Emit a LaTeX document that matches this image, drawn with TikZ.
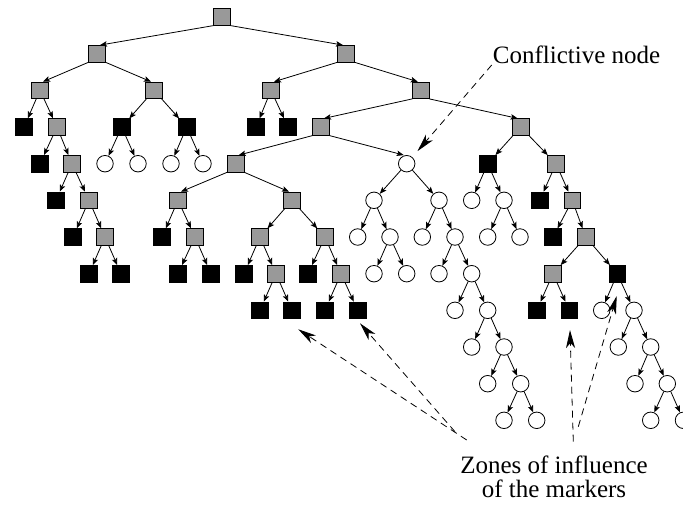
\documentclass[tikz,border=0pt]{standalone}
\usepackage{fontspec}
\setmainfont{Liberation Serif}
\usetikzlibrary{arrows.meta}
\definecolor{nodegray}{gray}{0.6}
\tikzset{
  gsq/.style={rectangle, draw=black, fill=nodegray, minimum size=16.5pt, inner sep=0pt, line width=0.7pt},
  ksq/.style={rectangle, draw=black, fill=black, minimum size=16.5pt, inner sep=0pt, line width=0.7pt},
  cir/.style={circle, draw=black, fill=white, minimum size=16.5pt, inner sep=0pt, line width=0.8pt},
  edge/.style={-{Stealth[length=7pt,width=5.5pt,inset=1.5pt]}, line width=0.8pt},
  callout/.style={dash pattern=on 7pt off 5pt, line width=0.8pt, -{Stealth[length=18pt,width=9pt,inset=5pt]}},
  lbl/.style={font=\fontsize{25}{23.4}\selectfont, inner sep=0pt}
}
\begin{document}
\begin{tikzpicture}[x=1pt,y=-1pt]
\useasboundingbox (0,0) rectangle (683,504);

% row 0
\node[gsq] (root) at (222,17) {};
% row 1
\node[gsq] (a) at (97,53.7) {};
\node[gsq] (b) at (346,53.7) {};
% row 2
\node[gsq] (a1) at (40,90.3) {};
\node[gsq] (a2) at (154,90.3) {};
\node[gsq] (b1) at (271,90.3) {};
\node[gsq] (b2) at (420.8,90.3) {};
% row 3
\node[ksq] (a1l) at (24,127) {};
\node[gsq] (a1r) at (57,127) {};
\node[ksq] (a2l) at (121.7,127) {};
\node[ksq] (a2r) at (186.7,127) {};
\node[ksq] (b1l) at (256,127) {};
\node[ksq] (b1r) at (288,127) {};
\node[gsq] (c) at (321,127) {};
\node[gsq] (g) at (520.7,127) {};
% row 4
\node[ksq] (a1rl) at (40,163.7) {};
\node[gsq] (a1rr) at (72,163.7) {};
\node[cir] (a2ll) at (105,163.7) {};
\node[cir] (a2lr) at (138,163.7) {};
\node[cir] (a2rl) at (171,163.7) {};
\node[cir] (a2rr) at (203,163.7) {};
\node[gsq] (d) at (235.7,163.7) {};
\node[cir] (conf) at (406.7,163.7) {};
\node[ksq] (gl) at (487.7,163.7) {};
\node[gsq] (gr) at (556,163.7) {};
% row 5
\node[ksq] (a1rrl) at (56,200.3) {};
\node[gsq] (a1rrr) at (89,200.3) {};
\node[gsq] (e) at (178,200.3) {};
\node[gsq] (f) at (292,200.3) {};
\node[cir] (cl) at (374,200.3) {};
\node[cir] (cr) at (439,200.3) {};
\node[cir] (gll) at (471.7,200.3) {};
\node[cir] (glr) at (504,200.3) {};
\node[ksq] (grl) at (539.7,200.3) {};
\node[gsq] (grr) at (572.3,200.3) {};
% row 6
\node[ksq] (a6l) at (73,237) {};
\node[gsq] (a6r) at (105,237) {};
\node[ksq] (el) at (162,237) {};
\node[gsq] (er) at (195,237) {};
\node[gsq] (fl) at (260,237) {};
\node[gsq] (fr) at (325,237) {};
\node[cir] (cll) at (357.7,237) {};
\node[cir] (clr) at (390,237) {};
\node[cir] (crl) at (422.3,237) {};
\node[cir] (crr) at (455,237) {};
\node[cir] (glrl) at (487.7,237) {};
\node[cir] (glrr) at (520,237) {};
\node[ksq] (grrl) at (553,237) {};
\node[gsq] (grrr) at (585.7,237) {};
% row 7
\node[ksq] (a7l) at (89,273.7) {};
\node[ksq] (a7r) at (121,273.7) {};
\node[ksq] (erl) at (178,273.7) {};
\node[ksq] (err) at (211,273.7) {};
\node[ksq] (fll) at (244,273.7) {};
\node[gsq] (flr) at (276,273.7) {};
\node[ksq] (frl) at (308,273.7) {};
\node[gsq] (frr) at (341,273.7) {};
\node[cir] (clrl) at (374,273.7) {};
\node[cir] (clrr) at (406.7,273.7) {};
\node[cir] (crrl) at (439,273.7) {};
\node[cir] (crrr) at (471.7,273.7) {};
\node[gsq] (m1) at (553,273.7) {};
\node[ksq] (m2) at (617.3,273.7) {};
% row 8
\node[ksq] (flrl) at (260,310.3) {};
\node[ksq] (flrr) at (292,310.3) {};
\node[ksq] (frrl) at (325,310.3) {};
\node[ksq] (frrr) at (357.7,310.3) {};
\node[cir] (s1) at (455,310.3) {};
\node[cir] (s2) at (487.7,310.3) {};
\node[ksq] (m1l) at (536.7,310.3) {};
\node[ksq] (m1r) at (569.3,310.3) {};
\node[cir] (m2l) at (601.7,310.3) {};
\node[cir] (m2r) at (634,310.3) {};
% row 9
\node[cir] (s2l) at (471.7,347) {};
\node[cir] (s2r) at (504,347) {};
\node[cir] (t1) at (618.3,347) {};
\node[cir] (t2) at (650.7,347) {};
% row 10
\node[cir] (s2rl) at (487.7,383.7) {};
\node[cir] (s2rr) at (520.7,383.7) {};
\node[cir] (t2l) at (635,383.7) {};
\node[cir] (t2r) at (667.3,383.7) {};
% row 11
\node[cir] (s2rrl) at (504,420.3) {};
\node[cir] (s2rrr) at (536.7,420.3) {};
\node[cir] (t2rl) at (650.7,420.3) {};
\node[cir] (t2rr) at (683.5,420.3) {};

% wide branches leave from the parent's lower corners
\foreach \p/\q in {root/a, a/a1, b/b1, b2/c, c/d, d/e}
  \draw[edge] (\p.south west) -- ([xshift=3pt]\q.north);
\foreach \p/\q in {root/b, a/a2, b/b2, b2/g, c/conf, d/f}
  \draw[edge] (\p.south east) -- ([xshift=-3pt]\q.north);

% narrow branches
\foreach \p/\q in {a1/a1l, a1/a1r, a2/a2l, a2/a2r, b1/b1l, b1/b1r, g/gl, g/gr,
  a1r/a1rl, a1r/a1rr, a2l/a2ll, a2l/a2lr, a2r/a2rl, a2r/a2rr,
  conf/cl, conf/cr, gl/gll, gl/glr, gr/grl, gr/grr,
  a1rr/a1rrl, a1rr/a1rrr, e/el, e/er, f/fl, f/fr, cl/cll, cl/clr, cr/crl, cr/crr,
  glr/glrl, glr/glrr, grr/grrl, grr/grrr,
  a1rrr/a6l, a1rrr/a6r, a6r/a7l, a6r/a7r,
  er/erl, er/err, fl/fll, fl/flr, fr/frl, fr/frr, clr/clrl, clr/clrr, crr/crrl, crr/crrr,
  grrr/m1, grrr/m2,
  flr/flrl, flr/flrr, frr/frrl, frr/frrr, crrr/s1, crrr/s2, m1/m1l, m1/m1r, m2/m2l, m2/m2r,
  s2/s2l, s2/s2r, m2r/t1, m2r/t2,
  s2r/s2rl, s2r/s2rr, t2/t2l, t2/t2r,
  s2rr/s2rrl, s2rr/s2rrr, t2r/t2rl, t2r/t2rr}
  \draw[edge] (\p) -- (\q);

% labels
\node[lbl, anchor=base west] (lconf) at (492.7,63.3) {Conflictive node};
\node[lbl, align=center, anchor=north] (lzone) at (554,456) {Zones of influence\\of the markers};

% callout arrows
\draw[callout, shorten >=8pt] ([shift={(-1,1.7)}]lconf.base west) -- (conf);

\coordinate (zs1) at (466.7,440);
\coordinate (zt1) at (298.3,329.3);
\coordinate (zs2) at (455,431.7);
\coordinate (zt2) at (360,323.3);
\coordinate (zs3) at (573.3,441.7);
\coordinate (zt3) at (570,330);
\coordinate (zs4) at (578.3,426.7);
\coordinate (zt4) at (616.7,296);
\foreach \i in {1,2,3,4}
  \draw[callout] (zs\i) -- (zt\i);
\end{tikzpicture}
\end{document}
